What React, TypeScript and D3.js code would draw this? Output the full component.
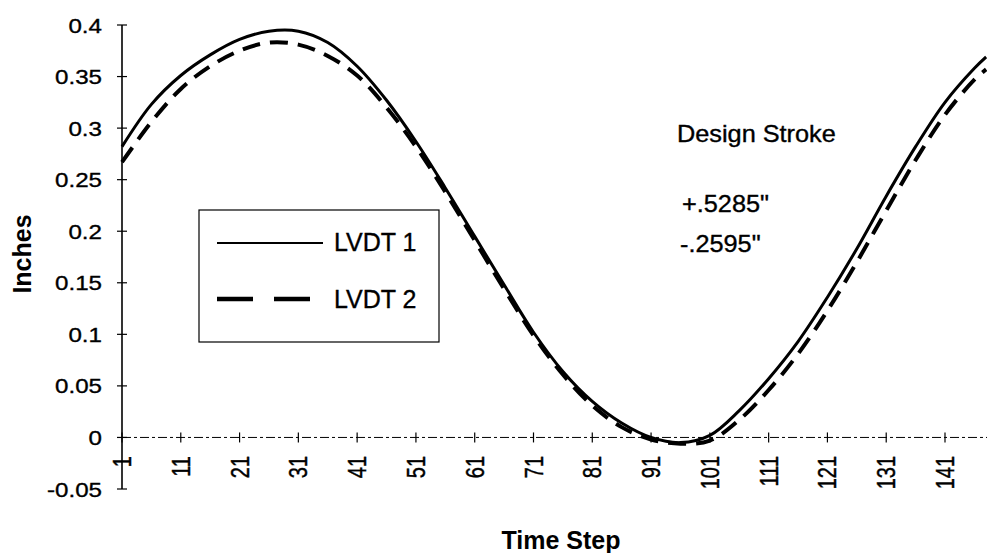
import React, { useEffect, useRef } from 'react';
import * as d3 from 'd3';

// time steps (every 5th step, plus the last one)
const steps = [1, 6, 11, 16, 21, 26, 31, 36, 41, 46, 51, 56, 61, 66, 71, 76, 81, 86, 91, 96, 101, 106, 111, 116, 121, 126, 131, 136, 141, 146, 148];

const lvdt1 = [0.282, 0.323, 0.351, 0.371, 0.386, 0.394, 0.394, 0.383, 0.360, 0.327, 0.287, 0.242, 0.195, 0.148, 0.102, 0.064, 0.035, 0.014, 0.000, -0.005, 0.002, 0.026, 0.057, 0.093, 0.136, 0.183, 0.234, 0.282, 0.325, 0.358, 0.369];

const lvdt2 = [0.267, 0.306, 0.338, 0.360, 0.375, 0.383, 0.381, 0.370, 0.351, 0.320, 0.282, 0.238, 0.191, 0.144, 0.099, 0.061, 0.031, 0.010, -0.002, -0.006, -0.003, 0.017, 0.046, 0.081, 0.123, 0.170, 0.220, 0.269, 0.313, 0.347, 0.357];

const seriesNames = ['LVDT 1', 'LVDT 2'];

const yTicks = [0.4, 0.35, 0.3, 0.25, 0.2, 0.15, 0.1, 0.05, 0, -0.05];
const yTickLabels = ['0.4', '0.35', '0.3', '0.25', '0.2', '0.15', '0.1', '0.05', '0', '-0.05'];
const xTicks = [1, 11, 21, 31, 41, 51, 61, 71, 81, 91, 101, 111, 121, 131, 141];

const noteLines = ['Design Stroke', '+.5285"', '-.2595"'];

const FONT = "'Liberation Sans', Arial, Helvetica, sans-serif";

const App: React.FC = () => {
  const svgRef = useRef<SVGSVGElement | null>(null);

  useEffect(() => {
    const svg = d3.select(svgRef.current);
    svg.selectAll('*').remove();

    const x = d3.scaleLinear().domain([1, 141]).range([122, 945]);
    const y = d3.scaleLinear().domain([-0.05, 0.4]).range([489, 25]);
    const x0 = x(1);

    // scanned look: text a touch heavier than plain regular
    const ink = (t: d3.Selection<SVGTextElement, unknown, null, undefined>) =>
      t.attr('fill', '#000').attr('stroke', '#000').attr('stroke-width', 0.35);

    // y axis with crossing ticks
    svg.append('line')
      .attr('x1', x0).attr('x2', x0)
      .attr('y1', y(0.4)).attr('y2', y(-0.05))
      .attr('stroke', '#000').attr('stroke-width', 1.6);

    yTicks.forEach((t, i) => {
      svg.append('line')
        .attr('x1', x0 - 5).attr('x2', x0 + 5)
        .attr('y1', y(t)).attr('y2', y(t))
        .attr('stroke', '#000').attr('stroke-width', 1.2);
      const lbl = svg.append('g')
        .attr('transform', `translate(102,${y(t)}) scale(1.15,1)`)
        .append('text')
        .attr('text-anchor', 'end')
        .attr('dy', '0.36em')
        .attr('font-family', FONT)
        .attr('font-size', 21)
        .text(yTickLabels[i]);
      ink(lbl as any);
    });

    // x axis on the zero line
    svg.append('line')
      .attr('x1', x0).attr('x2', 987)
      .attr('y1', y(0)).attr('y2', y(0))
      .attr('stroke', '#000').attr('stroke-width', 1)
      .attr('stroke-dasharray', '9 3 3 3');

    xTicks.forEach(t => {
      svg.append('line')
        .attr('x1', x(t)).attr('x2', x(t))
        .attr('y1', y(0) - 5).attr('y2', y(0) + 5)
        .attr('stroke', '#000').attr('stroke-width', 1.2);
      const lbl = svg.append('g')
        .attr('transform', `translate(${x(t)},456) scale(1.25,1) rotate(-90)`)
        .append('text')
        .attr('text-anchor', 'end')
        .attr('dy', '0.36em')
        .attr('font-family', FONT)
        .attr('font-size', 20)
        .text(String(t));
      ink(lbl as any);
    });

    // series
    const line = d3.line<number>()
      .x((d, i) => x(steps[i]))
      .y(d => y(d))
      .curve(d3.curveCatmullRom.alpha(0.5));

    svg.append('path')
      .attr('d', line(lvdt2)!)
      .attr('fill', 'none')
      .attr('stroke', '#000')
      .attr('stroke-width', 4)
      .attr('stroke-dasharray', '18 10');

    svg.append('path')
      .attr('d', line(lvdt1)!)
      .attr('fill', 'none')
      .attr('stroke', '#000')
      .attr('stroke-width', 3);

    // legend
    const legend = svg.append('g');
    legend.append('rect')
      .attr('x', 199).attr('y', 210)
      .attr('width', 240).attr('height', 132)
      .attr('fill', '#fff')
      .attr('stroke', '#000').attr('stroke-width', 1.2);

    legend.append('line')
      .attr('x1', 217).attr('x2', 323)
      .attr('y1', 243).attr('y2', 243)
      .attr('stroke', '#000').attr('stroke-width', 2);
    legend.append('line')
      .attr('x1', 217).attr('x2', 310)
      .attr('y1', 299).attr('y2', 299)
      .attr('stroke', '#000').attr('stroke-width', 4.5)
      .attr('stroke-dasharray', '36 21');

    seriesNames.forEach((name, i) => {
      const lbl = legend.append('text')
        .attr('x', 334)
        .attr('y', 251 + i * 57)
        .attr('font-family', FONT)
        .attr('font-size', 25)
        .text(name);
      ink(lbl as any);
    });

    // annotation
    const noteY = [142, 212, 252];
    const noteX = [677, 682, 680];
    noteLines.forEach((s, i) => {
      const lbl = svg.append('g')
        .attr('transform', `translate(${noteX[i]},${noteY[i]}) scale(1.1,1)`)
        .append('text')
        .attr('font-family', FONT)
        .attr('font-size', 23)
        .text(s);
      ink(lbl as any);
    });

    // axis titles
    svg.append('text')
      .attr('transform', 'translate(31,254) rotate(-90)')
      .attr('text-anchor', 'middle')
      .attr('font-family', FONT)
      .attr('font-weight', 'bold')
      .attr('font-size', 25)
      .text('Inches');

    svg.append('text')
      .attr('x', 561)
      .attr('y', 549)
      .attr('text-anchor', 'middle')
      .attr('font-family', FONT)
      .attr('font-weight', 'bold')
      .attr('font-size', 25)
      .text('Time Step');
  }, []);

  return (
    <svg
      ref={svgRef}
      width={987}
      height={553}
      style={{ position: 'absolute', left: 0, top: 0, background: '#fff' }}
    />
  );
};

export default App;
